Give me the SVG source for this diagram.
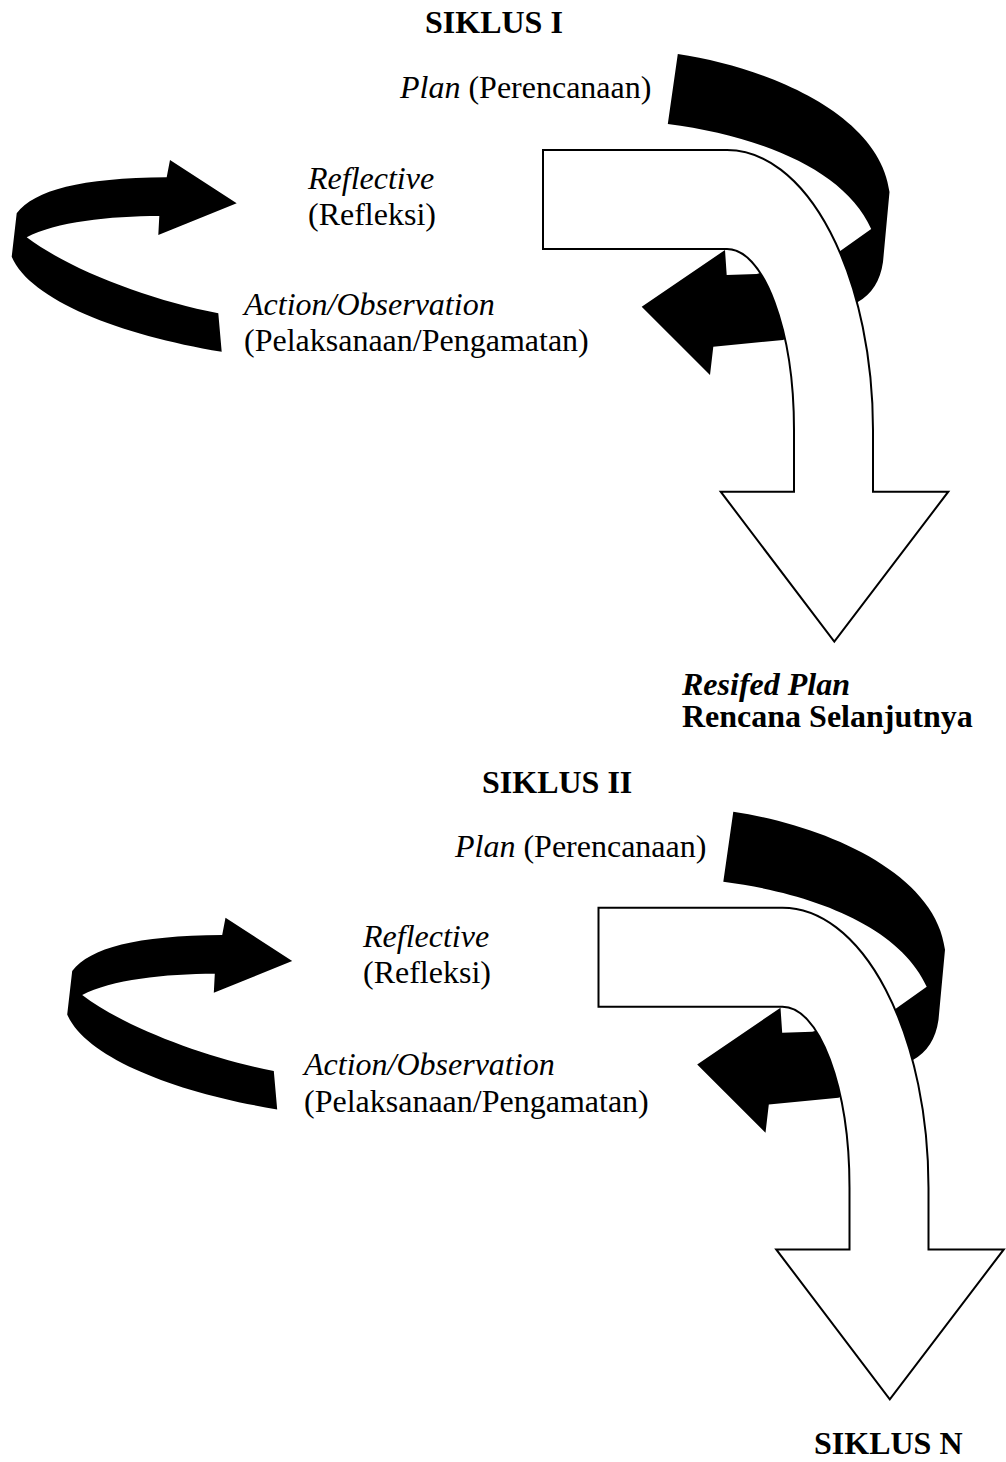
<svg xmlns="http://www.w3.org/2000/svg" xmlns:xlink="http://www.w3.org/1999/xlink" width="1006" height="1462" viewBox="0 0 1006 1462">
  <style>
    text { font-family: "Liberation Serif", "Times New Roman", serif; font-size: 32px; fill: #000; }
    .b { font-weight: bold; }
    .i { font-style: italic; }
    .blk { fill: #000; stroke: none; }
    .wht { fill: #fff; stroke: #000; stroke-width: 2; stroke-linejoin: miter; }
  </style>
  <defs>
    <path id="reflectArrow" class="blk" d="M166.7,177.3 L170,160 L236.7,203.3 L158.3,235 L159.3,216 C110,216 55,222 26.7,237.3 C70,270 150,300 218.3,313.3 L221.7,351.7 C120,335 30,300 11.7,256.7 L16.7,213.3 C35,190 80,178 166.7,177.3 Z"/>
    <path id="planActionArrow" class="blk" d="M677.8,54 C770,68 880,115 889.5,192 L883,262 Q879,290 857.8,302 L783,340 L713.3,346.7 L710,375 L641.7,306.7 L725,250 L726.7,275 L756.7,274 L839.5,251.6 L871.2,229 C845,170 760,136 667.8,124 Z"/>
    <path id="bentArrow" class="wht" d="M543,150 L727,150 A146,280 0 0 1 873,430 L873,491.7 L948.3,491.7 L834.3,641.7 L720.7,491.7 L794,491.7 L794,430 A67,181 0 0 0 727,249 L543,249 Z"/>
  </defs>

  <g id="connectors">
    <g id="cycle1-arrows">
      <use xlink:href="#reflectArrow"/>
      <use xlink:href="#planActionArrow"/>
      <use xlink:href="#bentArrow"/>
    </g>
    <g id="cycle2-arrows" transform="translate(55.5,757.7)">
      <use xlink:href="#reflectArrow"/>
      <use xlink:href="#planActionArrow"/>
      <use xlink:href="#bentArrow"/>
    </g>
  </g>

  <g id="siklus1-title"><text class="b" x="425" y="33">SIKLUS I</text></g>
  <g id="plan1"><text x="400" y="98"><tspan class="i">Plan</tspan> (Perencanaan)</text></g>
  <g id="reflective1">
    <text class="i" x="308" y="189">Reflective</text>
    <text x="308" y="225">(Refleksi)</text>
  </g>
  <g id="action1">
    <text class="i" x="244" y="315">Action/Observation</text>
    <text x="244" y="351">(Pelaksanaan/Pengamatan)</text>
  </g>
  <g id="revised-plan">
    <text class="b i" x="682" y="695">Resifed Plan</text>
    <text class="b" x="682" y="727">Rencana Selanjutnya</text>
  </g>

  <g id="siklus2-title"><text class="b" x="482" y="793">SIKLUS II</text></g>
  <g id="plan2"><text x="455" y="857"><tspan class="i">Plan</tspan> (Perencanaan)</text></g>
  <g id="reflective2">
    <text class="i" x="363" y="947">Reflective</text>
    <text x="363" y="983">(Refleksi)</text>
  </g>
  <g id="action2">
    <text class="i" x="304" y="1075">Action/Observation</text>
    <text x="304" y="1112">(Pelaksanaan/Pengamatan)</text>
  </g>
  <g id="siklusN-title"><text class="b" x="814" y="1454">SIKLUS N</text></g>
</svg>
